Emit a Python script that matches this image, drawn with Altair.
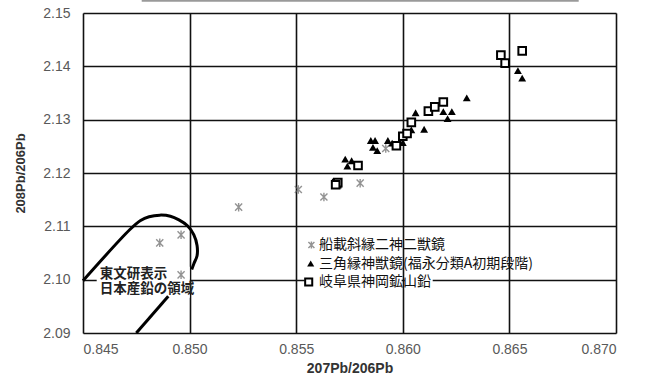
import altair as alt
import pandas as pd

# ---- data ----
star_x = [0.8486, 0.8496, 0.8496, 0.8523, 0.8551, 0.8563, 0.8580, 0.8592]
star_y = [2.1069, 2.1084, 2.1009, 2.1136, 2.1169, 2.1155, 2.1181, 2.1246]

tri_x = [0.8573, 0.8576, 0.8574, 0.8585, 0.8587, 0.8586, 0.8588, 0.8593, 0.8595,
         0.8600, 0.8604, 0.8606, 0.8610, 0.8619, 0.8621, 0.8623, 0.8630, 0.8654, 0.8656]
tri_y = [2.1226, 2.1223, 2.1213, 2.1261, 2.1261, 2.1248, 2.1242, 2.1261, 2.1256,
         2.1257, 2.1281, 2.1313, 2.1282, 2.1315, 2.1302, 2.1315, 2.1341, 2.1392, 2.1378]

sq_x = [0.8569, 0.85695, 0.85685, 0.8579, 0.8597, 0.8600, 0.8602, 0.8604, 0.8612,
        0.8615, 0.8619, 0.8646, 0.8648, 0.8656]
sq_y = [2.1180, 2.1182, 2.1178, 2.1214, 2.1251, 2.1269, 2.1274, 2.1295, 2.1316,
        2.1324, 2.1333, 2.1421, 2.1406, 2.1429]

# boundary of the "Japanese lead" region
b1_x = [0.8450, 0.8472, 0.8477, 0.8481, 0.8486, 0.8491, 0.8495, 0.8499, 0.8502,
        0.85035, 0.85035, 0.8502, 0.8501]
b1_y = [2.0998, 2.1094, 2.1111, 2.1118, 2.1121, 2.1119, 2.1112, 2.1101, 2.1084,
        2.1064, 2.1045, 2.1030, 2.1019]
b2_x = [0.8475, 0.8490]
b2_y = [2.0900, 2.0969]

legend_labels = ["船載斜縁二神二獣鏡", "三角縁神獣鏡(福永分類A初期段階)", "岐阜県神岡鉱山鉛"]
region_labels = ["東文研表示", "日本産鉛の領域"]
x_ticks = [0.845, 0.850, 0.855, 0.860, 0.865, 0.870]
y_ticks = [2.09, 2.10, 2.11, 2.12, 2.13, 2.14, 2.15]

CJK = "Noto Sans CJK JP"
STAR = "M-1,-1L1,1M-1,1L1,-1M0,-1.2L0,1.2"

xs = alt.Scale(domain=[0.845, 0.870], nice=False, zero=False)
ys = alt.Scale(domain=[2.09, 2.15], nice=False, zero=False)

x_axis = alt.Axis(values=x_ticks, format=".3f", title="207Pb/206Pb", grid=True,
                  gridColor="#111111", gridWidth=1.6, domain=False, ticks=False,
                  labelFont="Liberation Sans", labelFontSize=14, labelColor="#595959",
                  labelPadding=9, titleFont="Liberation Sans", titleFontSize=14,
                  titleFontWeight="bold", titleColor="#333333", titlePadding=5)
y_axis = alt.Axis(values=y_ticks, format=".2f", title="208Pb/206Pb", grid=True,
                  gridColor="#111111", gridWidth=1.6, domain=False, ticks=False,
                  labelFont="Liberation Sans", labelFontSize=14, labelColor="#595959",
                  labelPadding=13, titleFont="Liberation Sans", titleFontSize=13,
                  titleFontWeight="bold", titleColor="#333333", titleX=-56)

stars = pd.DataFrame({"x": star_x, "y": star_y})
tris = pd.DataFrame({"x": tri_x, "y": tri_y})
sqs = pd.DataFrame({"x": sq_x, "y": sq_y})
bound = pd.DataFrame({
    "x": b1_x + b2_x,
    "y": b1_y + b2_y,
    "seg": ["a"] * len(b1_x) + ["b"] * len(b2_x),
    "i": list(range(len(b1_x))) + list(range(len(b2_x))),
})

base_enc = dict(x=alt.X("x:Q", scale=xs, axis=x_axis), y=alt.Y("y:Q", scale=ys, axis=y_axis))

# white patches behind texts (hide gridlines as in the reference)
patches = pd.DataFrame({"x1": [13.7, 221.7, 321.8], "x2": [106.7, 318.6, 349.7],
                        "y1": [253.7, 262.7, 262.7], "y2": [284.7, 276.7, 276.7]})
patch_layer = alt.Chart(patches).mark_rect(color="white").encode(
    x=alt.X("x1:Q", scale=None), x2="x2:Q", y=alt.Y("y1:Q", scale=None), y2="y2:Q")

axes_layer = alt.Chart(stars).mark_point(opacity=0).encode(**base_enc)

bound_layer = alt.Chart(bound).mark_line(color="black", strokeWidth=3,
                                         interpolate="catmull-rom").encode(
    x=alt.X("x:Q", scale=xs), y=alt.Y("y:Q", scale=ys), detail="seg:N", order="i:Q")

star_layer = alt.Chart(stars).mark_point(shape=STAR, size=50, stroke="#666666",
                                         strokeWidth=1.4, filled=False).encode(
    x=alt.X("x:Q", scale=xs), y=alt.Y("y:Q", scale=ys))
tri_layer = alt.Chart(tris).mark_point(shape="triangle-up", size=62, color="black",
                                       filled=True, opacity=1).encode(
    x=alt.X("x:Q", scale=xs), y=alt.Y("y:Q", scale=ys))
sq_layer = alt.Chart(sqs).mark_point(shape="square", size=58, stroke="black",
                                     strokeWidth=2, fill="white", filled=False,
                                     opacity=1).encode(
    x=alt.X("x:Q", scale=xs), y=alt.Y("y:Q", scale=ys))

# manual legend (pixel positions)
leg = pd.DataFrame({"label": legend_labels, "sx": [228.4, 227.7, 225.7],
                    "tx": [236, 236, 236], "py": [232.0, 250.5, 269.0]})
leg_star = alt.Chart(leg.iloc[[0]]).mark_point(shape=STAR, size=36, stroke="#666666",
                                               strokeWidth=1.4).encode(
    x=alt.X("sx:Q", scale=None), y=alt.Y("py:Q", scale=None))
leg_tri = alt.Chart(leg.iloc[[1]]).mark_point(shape="triangle-up", size=50, color="black",
                                              filled=True, opacity=1).encode(
    x=alt.X("sx:Q", scale=None), y=alt.Y("py:Q", scale=None))
leg_sq = alt.Chart(leg.iloc[[2]]).mark_point(shape="square", size=50, stroke="black",
                                             strokeWidth=2, filled=False, opacity=1).encode(
    x=alt.X("sx:Q", scale=None), y=alt.Y("py:Q", scale=None))
leg_text = alt.Chart(leg).mark_text(align="left", baseline="middle", font=CJK,
                                    fontSize=14, color="#111111").encode(
    x=alt.X("tx:Q", scale=None), y=alt.Y("py:Q", scale=None), text="label:N")

reg = pd.DataFrame({"label": ["\n".join(region_labels)], "tx": [16.7], "py": [260.7]})
reg_text = alt.Chart(reg).mark_text(align="left", baseline="middle", font=CJK,
                                    fontSize=13.5, fontWeight="bold", color="#222222",
                                    lineBreak="\n", lineHeight=15).encode(
    x=alt.X("tx:Q", scale=None), y=alt.Y("py:Q", scale=None), text="label:N")

top_line = alt.Chart(stars.iloc[[0]]).mark_rule(color="#9a9a9a", strokeWidth=2).encode(
    x=alt.value(58.7), x2=alt.value(495.7), y=alt.value(-12.3))

chart = alt.layer(
    axes_layer, patch_layer, bound_layer, star_layer, tri_layer, sq_layer,
    leg_star, leg_tri, leg_sq, leg_text, reg_text, top_line
).properties(
    width=533, height=320,
    autosize=alt.AutoSizeParams(type="none"),
    padding={"left": 83, "top": 13, "right": 32, "bottom": 45},
).configure_view(stroke="black", strokeWidth=2.5).configure(background="white")

chart.save("out.html", embed_options={"renderer": "svg", "actions": False})
